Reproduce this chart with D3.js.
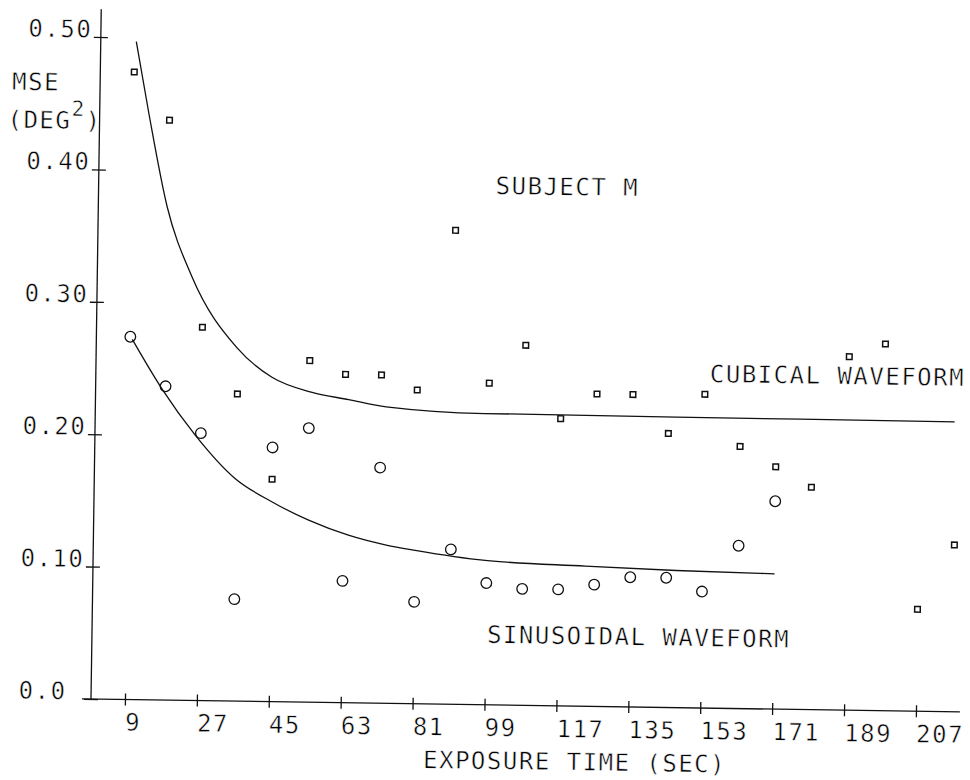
<!DOCTYPE html>
<html>
<head>
<meta charset="utf-8">
<script src="https://cdn.jsdelivr.net/npm/d3@7"></script>
<style>
  body { margin: 0; background: #fff; }
  svg text {
    font-family: "DejaVu Sans Mono", monospace;
    font-size: 24px;
    letter-spacing: 1.5px;
    fill: #000;
    stroke: #fff;
    stroke-width: 0.5px;
  }
</style>
</head>
<body>
<svg id="chart" width="970" height="780"></svg>
<script>
// MSE against exposure time, subject M -- plotter style figure

///////////////////////////////////////////////////////////////////////////////
// Data

var cubicalTimes = [9, 18, 27, 36, 45, 54, 63, 72, 81, 90, 99, 108,
                    117, 126, 135, 144, 153, 162, 171, 180, 189, 198, 207, 216];
var cubicalMse = [0.474, 0.438, 0.282, 0.232, 0.168, 0.258, 0.248, 0.248,
                  0.237, 0.358, 0.243, 0.272, 0.217, 0.236, 0.236, 0.207,
                  0.237, 0.198, 0.183, 0.168, 0.267, 0.277, 0.077, 0.126];

var sinusoidalTimes = [9, 18, 27, 36, 45, 54, 63, 72, 81, 90, 99, 108,
                       117, 126, 135, 144, 153, 162, 171];
var sinusoidalMse = [0.274, 0.237, 0.202, 0.077, 0.192, 0.207, 0.092, 0.178,
                     0.077, 0.117, 0.092, 0.088, 0.088, 0.092, 0.098, 0.098,
                     0.088, 0.123, 0.157];

// fitted curves, sampled from the figure
var cubicalFitTimes = [9.4, 12.8, 17.7, 24.2, 35.7, 44.6, 54.7, 63.9, 73.3, 98, 146, 215.6];
var cubicalFitMse = [0.497, 0.443, 0.373, 0.320, 0.267, 0.245, 0.234, 0.229,
                     0.224, 0.220, 0.2195, 0.219];

var sinusoidalFitTimes = [9.5, 17.1, 25.6, 35.8, 45, 54.3, 64.3, 73.8, 81.1,
                          98.6, 123.7, 146.5, 171.1];
var sinusoidalFitMse = [0.272, 0.235, 0.2005, 0.168, 0.151, 0.1375, 0.1266,
                        0.1196, 0.1159, 0.1091, 0.1059, 0.1036, 0.1022];

var xTicks = [9, 27, 45, 63, 81, 99, 117, 135, 153, 171, 189, 207];
var yTicks = [0, 0.1, 0.2, 0.3, 0.4, 0.5];
var yTickLabels = ["0.0", "0.10", "0.20", "0.30", "0.40", "0.50"];

///////////////////////////////////////////////////////////////////////////////
// Frame

var ink = "#111";
var svg = d3.select("#chart");

// the scanned sheet sits a little crooked, so the whole plot is turned with it
var plot = svg.append("g")
  .attr("transform", "translate(91,699) rotate(0.85)");

var x = d3.scaleLinear().domain([0.5, 218]).range([0, 869]);
var y = d3.scaleLinear().domain([0, 0.5]).range([0, -662]);

plot.append("line")
  .attr("x1", -9).attr("x2", x(218))
  .attr("y1", 0).attr("y2", 0)
  .attr("stroke", ink).attr("stroke-width", 1.3);

plot.append("line")
  .attr("x1", 0).attr("x2", 0)
  .attr("y1", 0).attr("y2", y(0.521))
  .attr("stroke", ink).attr("stroke-width", 1.3);

var xAxis = plot.append("g")
  .call(d3.axisBottom(x).tickValues(xTicks).tickSizeOuter(0));
xAxis.attr("font-size", null).attr("font-family", null);
xAxis.select(".domain").remove();
xAxis.selectAll(".tick line")
  .attr("y1", -6).attr("y2", 6)
  .attr("stroke", ink).attr("stroke-width", 1.3);
xAxis.selectAll(".tick text")
  .attr("text-anchor", "start")
  .attr("y", 31).attr("dy", null);

var yAxis = plot.append("g")
  .call(d3.axisLeft(y).tickValues(yTicks).tickSizeOuter(0)
    .tickFormat(function (d, i) { return yTickLabels[i]; }));
yAxis.attr("font-size", null).attr("font-family", null);
yAxis.select(".domain").remove();
yAxis.selectAll(".tick line")
  .attr("x1", -7).attr("x2", 7)
  .attr("stroke", ink).attr("stroke-width", 1.3);
yAxis.selectAll(".tick text")
  .attr("text-anchor", "start")
  .attr("x", -72.5).attr("dy", null);

///////////////////////////////////////////////////////////////////////////////
// Fitted curves

var fitLine = d3.line()
  .x(function (d) { return x(d[0]); })
  .y(function (d) { return y(d[1]); })
  .curve(d3.curveMonotoneX);

plot.append("path")
  .datum(d3.zip(cubicalFitTimes, cubicalFitMse))
  .attr("d", fitLine)
  .attr("fill", "none").attr("stroke", ink).attr("stroke-width", 1.3);

plot.append("path")
  .datum(d3.zip(sinusoidalFitTimes, sinusoidalFitMse))
  .attr("d", fitLine)
  .attr("fill", "none").attr("stroke", ink).attr("stroke-width", 1.3);

///////////////////////////////////////////////////////////////////////////////
// Points

plot.append("g").selectAll("rect")
  .data(d3.zip(cubicalTimes, cubicalMse))
  .join("rect")
  .attr("x", function (d) { return x(d[0]) - 2.8; })
  .attr("y", function (d) { return y(d[1]) - 2.8; })
  .attr("width", 5.6).attr("height", 5.6)
  .attr("fill", "none").attr("stroke", ink).attr("stroke-width", 1.5);

plot.append("g").selectAll("circle")
  .data(d3.zip(sinusoidalTimes, sinusoidalMse))
  .join("circle")
  .attr("cx", function (d) { return x(d[0]); })
  .attr("cy", function (d) { return y(d[1]); })
  .attr("r", 5.3)
  .attr("fill", "none").attr("stroke", ink).attr("stroke-width", 1.3);

///////////////////////////////////////////////////////////////////////////////
// Labels

plot.append("text").attr("x", 397).attr("y", -511).text("SUBJECT M");
plot.append("text").attr("x", 614).attr("y", -326).text("CUBICAL WAVEFORM");
plot.append("text").attr("x", 395).attr("y", -62).text("SINUSOIDAL WAVEFORM");
plot.append("text").attr("x", 333).attr("y", 64).text("EXPOSURE TIME (SEC)");

plot.append("text").attr("x", -88).attr("y", -608).text("MSE");
var unit = plot.append("text").attr("x", -92).attr("y", -570);
unit.append("tspan").text("(DEG");
unit.append("tspan").attr("dy", -13).style("font-size", "21px").text("2");
unit.append("tspan").attr("dy", 13).text(")");
</script>
</body>
</html>
